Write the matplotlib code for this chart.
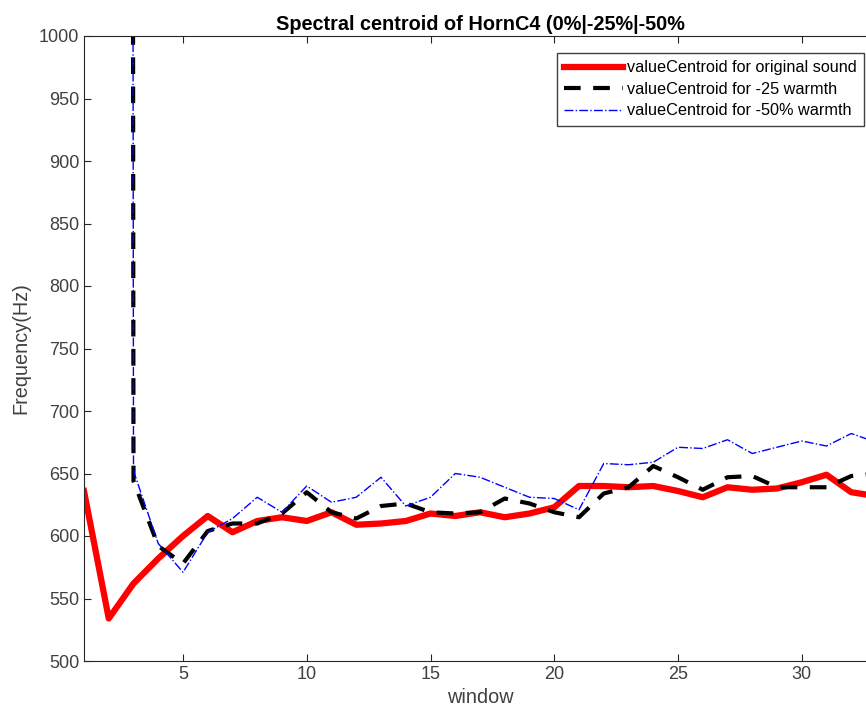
import numpy as np
import matplotlib
matplotlib.use('Agg')
import matplotlib.pyplot as plt

# Спектральный центроид по окнам
windows = np.arange(1, 34)
original = [636, 534, 562, 582, 600, 616, 603, 612, 615, 612, 619, 609,
            610, 612, 618, 616, 619, 615, 618, 623, 640, 640, 639, 640,
            636, 631, 639, 637, 638, 643, 649, 635, 632]
warmth25 = [20000, 20000, 644, 592, 578, 604, 610, 610, 618, 635, 619, 614,
            624, 626, 619, 618, 619, 630, 626, 619, 615, 634, 639, 656,
            647, 637, 647, 648, 639, 639, 639, 648, 650]
warmth50 = [20000, 20000, 652, 594, 571, 603, 614, 631, 619, 640, 627, 631,
            647, 624, 631, 650, 647, 639, 631, 630, 621, 658, 657, 659,
            671, 670, 677, 666, 671, 676, 672, 682, 675]

plt.rcParams['font.family'] = ['Liberation Sans', 'DejaVu Sans']
fig = plt.figure(figsize=(8.66, 7.2), dpi=100)
ax = fig.add_axes([84 / 866, 59 / 720, 792 / 866, 625 / 720])

ax.plot(windows, original, '-', color='red', linewidth=4.5, label='valueCentroid for original sound')
ax.plot(windows, warmth25, '--', color='black', linewidth=3, dashes=(4, 3), label='valueCentroid for -25 warmth')
ax.plot(windows, warmth50, '-.', color='blue', linewidth=1, label='valueCentroid for -50% warmth')

ax.set_xlim(1, 33)
ax.set_ylim(500, 1000)
ax.set_xticks([5, 10, 15, 20, 25, 30])
ax.set_yticks(np.arange(500, 1001, 50))
ax.tick_params(direction='in', top=True, right=True, labelsize=13, colors='#262626', length=5)
ax.tick_params(labelcolor='#404040')
for s in ax.spines.values():
    s.set_color('#262626')

ax.set_title('Spectral centroid of HornC4 (0%|-25%|-50%', fontsize=14.3, fontweight='bold', pad=4)
ax.set_xlabel('window', fontsize=14.3, color='#404040', labelpad=4)
ax.set_ylabel('Frequency(Hz)', fontsize=14.3, color='#404040', labelpad=6)

leg = ax.legend(loc='upper left', bbox_to_anchor=(557 / 866, 1 - 53 / 720),
                bbox_transform=fig.transFigure, fontsize=11.7, fancybox=False,
                framealpha=1, edgecolor='#404040', handlelength=3.6,
                borderaxespad=0, borderpad=0.45, handletextpad=0.25, labelspacing=0.4)
leg.get_frame().set_linewidth(1)

fig.savefig('out.png', dpi=100)
